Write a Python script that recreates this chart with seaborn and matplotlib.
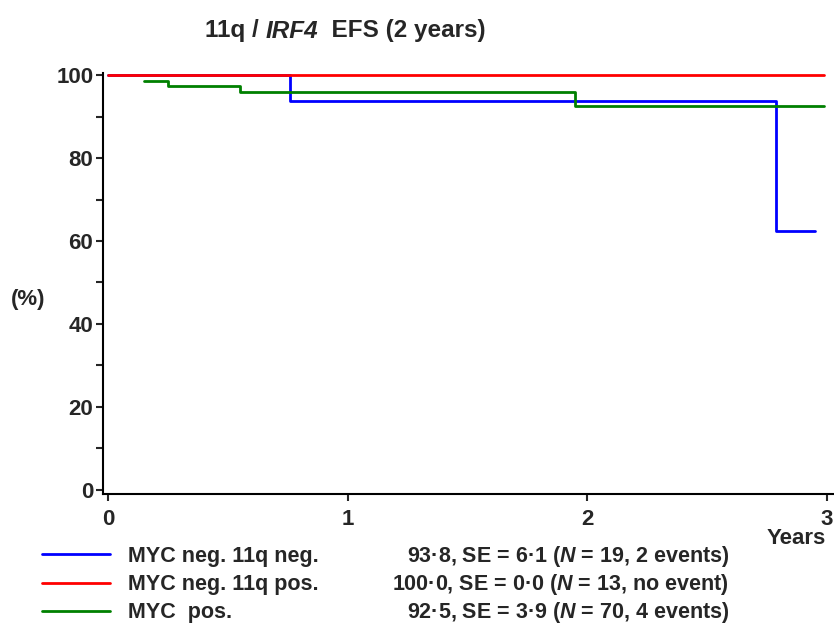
import pandas as pd
import numpy as np
import matplotlib
matplotlib.use("Agg")
import matplotlib.pyplot as plt
import seaborn as sns

# Kaplan-Meier step data (years, EFS %)
blue_t = [0, 0.76, 2.79, 2.95]
blue_s = [100, 93.8, 62.5, 62.5]
red_t = [0, 2.99]
red_s = [100, 100]
green_t = [0.15, 0.25, 0.55, 1.95, 2.99]
green_s = [98.6, 97.3, 95.8, 92.5, 92.5]

groups = ["MYC neg. 11q neg.", "MYC neg. 11q pos.", "MYC  pos."]
stats = [r"93·8, SE = 6·1 ($\mathit{N}$ = 19, 2 events)",
         r"100·0, SE = 0·0 ($\mathit{N}$ = 13, no event)",
         r"92·5, SE = 3·9 ($\mathit{N}$ = 70, 4 events)"]
colors = ["#0000ff", "#ff0000", "#008000"]
x_ticks = [0, 1, 2, 3]
y_ticks = [0, 20, 40, 60, 80, 100]

df = pd.concat([
    pd.DataFrame({"Years": blue_t, "EFS": blue_s, "group": groups[0]}),
    pd.DataFrame({"Years": red_t, "EFS": red_s, "group": groups[1]}),
    pd.DataFrame({"Years": green_t, "EFS": green_s, "group": groups[2]}),
])

sns.set_style("ticks")
plt.rcParams["font.family"] = ["Liberation Sans", "DejaVu Sans"]
plt.rcParams["font.weight"] = "bold"
plt.rcParams["mathtext.fontset"] = "custom"
plt.rcParams["mathtext.it"] = "Liberation Sans:italic:bold"
plt.rcParams["mathtext.rm"] = "Liberation Sans:bold"
plt.rcParams["mathtext.bf"] = "Liberation Sans:bold"

fig = plt.figure(figsize=(8.34, 6.33), dpi=100)
ax = fig.add_axes([103 / 834, 1 - 494 / 633, 1 - 103 / 834, (494 - 73) / 633])

sns.lineplot(data=df, x="Years", y="EFS", hue="group", palette=colors,
             hue_order=groups, estimator=None, drawstyle="steps-post",
             lw=2.0, legend=False, ax=ax)

ax.set_xlim(-0.021, 3.03)
ax.set_ylim(-1, 100.5)
ax.set_xticks(x_ticks)
ax.set_yticks(y_ticks)
ax.set_yticks(np.arange(10, 100, 20), minor=True)
ax.tick_params(axis="both", labelsize=16, width=1.5, length=5, direction="out")
ax.tick_params(axis="y", which="minor", width=1.5, length=5)
ax.tick_params(axis="x", pad=6)
ax.tick_params(axis="y", pad=2)
for lab in ax.get_xticklabels() + ax.get_yticklabels():
    lab.set_fontweight("bold")
ax.set_xlabel("")
ax.set_ylabel("")
for s in ["top", "right"]:
    ax.spines[s].set_visible(False)
for s in ["left", "bottom"]:
    ax.spines[s].set_linewidth(1.5)
    ax.spines[s].set_color("black")
for line in ax.get_lines():
    line.set_clip_on(False)

# title in three pieces so that IRF4 is fully italic
t1 = fig.text(205 / 834, 1 - 31 / 633, "11q / ", fontsize=17.5,
              fontweight="bold", ha="left", va="center")
t2 = fig.text(0, 0, "IRF4", fontsize=17.5, fontweight="bold", style="italic",
              ha="left", va="center", transform=t1.get_transform())
fig.canvas.draw()
inv = fig.transFigure.inverted()
b1 = t1.get_window_extent()
t2.set_position(inv.transform((b1.x1, (b1.y0 + b1.y1) / 2)))
fig.canvas.draw()
b2 = t2.get_window_extent()
fig.text(*inv.transform((b2.x1, (b1.y0 + b1.y1) / 2)), "  EFS (2 years)",
         fontsize=17.5, fontweight="bold", ha="left", va="center")

fig.text(28 / 834, 1 - 300 / 633, "(%)", fontsize=16, fontweight="bold",
         ha="center", va="center")
fig.text(826 / 834, 1 - 538 / 633, "Years", fontsize=16, fontweight="bold",
         ha="right", va="center")

leg = fig.legend(handles=ax.get_lines()[:3], labels=groups, frameon=False,
                 loc="upper left", bbox_to_anchor=(42 / 834, 1 - 546 / 633),
                 fontsize=15.5, handlelength=3.15, handletextpad=0.84,
                 borderpad=0, borderaxespad=0, labelspacing=0.33)
for t in leg.get_texts():
    t.set_fontweight("bold")

fig.canvas.draw()
for t, st in zip(leg.get_texts(), stats):
    bb = t.get_window_extent()
    yc = inv.transform((0, (bb.y0 + bb.y1) / 2))[1]
    fig.text(729 / 834, yc, st, fontsize=15.5, fontweight="bold",
             ha="right", va="center")

fig.savefig("out.png", dpi=100)
